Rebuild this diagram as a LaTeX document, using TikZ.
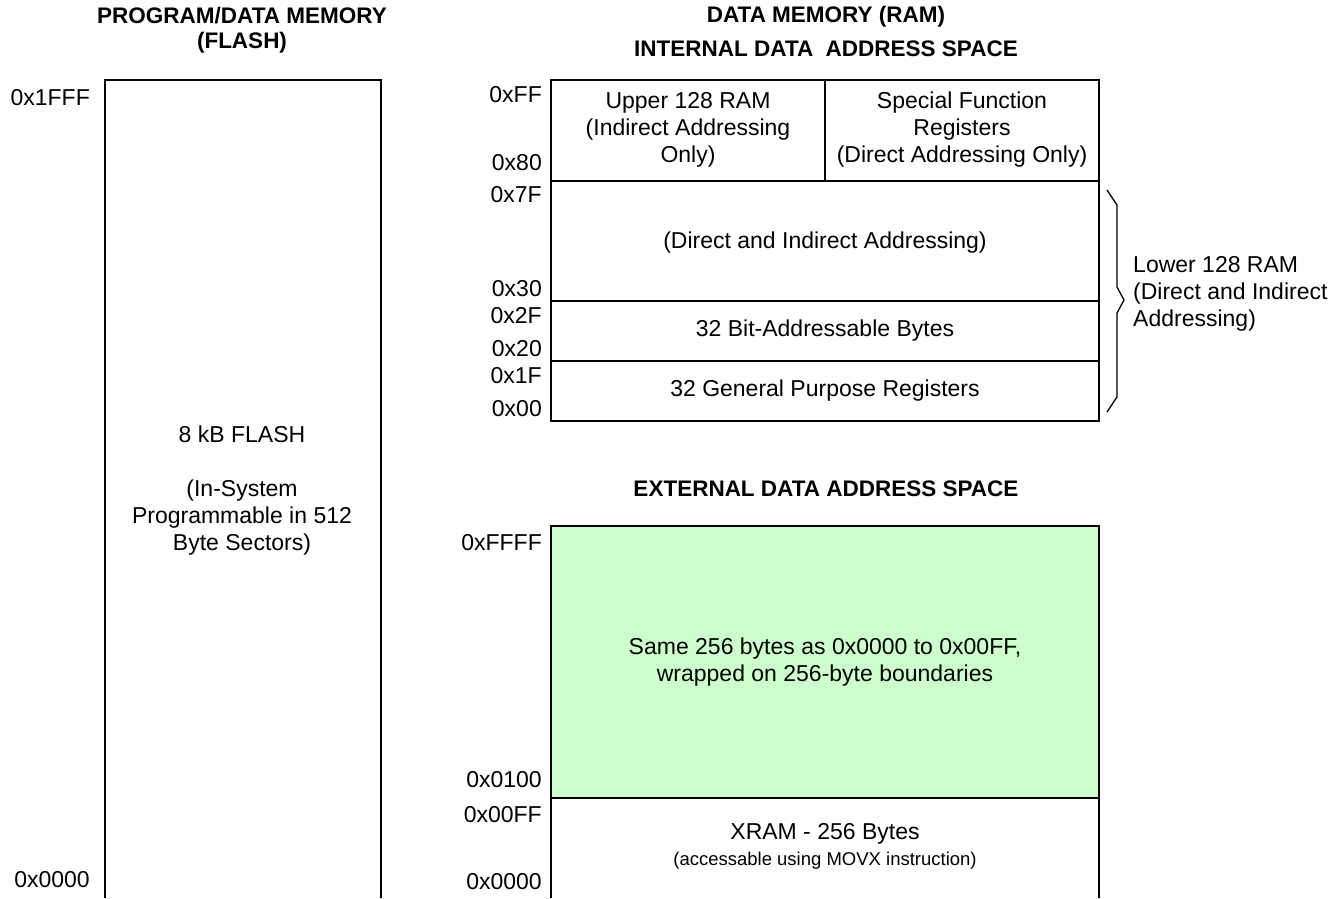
\documentclass[tikz,border=0pt]{standalone}
\usepackage{fontspec}
\setmainfont{Liberation Sans}
\definecolor{memgreen}{HTML}{CCFFCC}
\tikzset{
  box/.style={line width=1.6pt, draw=black, line join=miter},
  body/.style={font=\fontsize{23}{27}\selectfont, inner sep=0pt, align=center, text=black},
  small/.style={font=\fontsize{18.5}{22}\selectfont, inner sep=0pt, align=center},
  ttl/.style={font=\fontsize{22.5}{25}\selectfont\bfseries, inner sep=0pt, align=center},
  addr/.style={font=\fontsize{23}{27}\selectfont, inner sep=0pt, anchor=east},
  bracepath/.style={line width=1.3pt, line join=miter}
}
\begin{document}
\begin{tikzpicture}[x=1pt,y=-1pt]
\useasboundingbox (0,0) rectangle (1344,898);
% titles
\node[ttl] (tflash) at (242,30) {PROGRAM/DATA MEMORY\\(FLASH)};
\node[ttl] (tram) at (826,17) {DATA MEMORY (RAM)};
\node[ttl] (tint) at (826,49) {INTERNAL DATA\hspace{0.55em}ADDRESS SPACE};
\node[ttl] (text) at (826,489) {EXTERNAL DATA ADDRESS SPACE};
% flash box
\draw[box] (105,898) -- (105,80) -- (381,80) -- (381,898);
\node[body] (flash) at (242,491) {8 kB FLASH\\[27pt](In-System\\Programmable in 512\\Byte Sectors)};
\node[addr] (f1) at (90,98) {0x1FFF};
\node[addr] (f0) at (90,880) {0x0000};
% internal RAM
\draw[box] (551,80) rectangle (1099,421);
\draw[box] (551,181) -- (1099,181);
\draw[box] (551,301) -- (1099,301);
\draw[box] (551,361) -- (1099,361);
\draw[box] (825,80) -- (825,181);
\node[body] (upper) at (688,130) {Upper 128 RAM\\(Indirect Addressing\\Only)};
\node[body] (sfr) at (962,130) {Special Function\\Registers\\(Direct Addressing Only)};
\node[body] (lower) at (825,243) {(Direct and Indirect Addressing)};
\node[body] (bitb) at (825,331) {32 Bit-Addressable Bytes};
\node[body] (gpr) at (825,391) {32 General Purpose Registers};
\node[addr] (aFF) at (542,95) {0xFF};
\node[addr] (a80) at (542,163) {0x80};
\node[addr] (a7F) at (542,195) {0x7F};
\node[addr] (a30) at (542,289) {0x30};
\node[addr] (a2F) at (542,316) {0x2F};
\node[addr] (a20) at (542,349) {0x20};
\node[addr] (a1F) at (542,376) {0x1F};
\node[addr] (a00) at (542,409) {0x00};
% brace
\draw[bracepath] (1107,190) -- (1117,205) -- (1117,287) -- (1124,300) -- (1117,313) -- (1117,397) -- (1107,412);
\node[body, align=left, anchor=west] (lowlbl) at (1133,294) {Lower 128 RAM\\(Direct and Indirect\\Addressing)};
% external
\fill[memgreen] (551,526) rectangle (1099,798);
\draw[box] (551,898) -- (551,526) -- (1099,526) -- (1099,898);
\draw[box] (551,798) -- (1099,798);
\node[body] (same) at (825,662) {Same 256 bytes as 0x0000 to 0x00FF,\\wrapped on 256-byte boundaries};
\node[body] (xram) at (825,834) {XRAM - 256 Bytes};
\node[small] (xnote) at (825,861) {(accessable using MOVX instruction)};
\node[addr] (eFFFF) at (542,543) {0xFFFF};
\node[addr] (e0100) at (542,780) {0x0100};
\node[addr] (e00FF) at (542,815) {0x00FF};
\node[addr] (e0000) at (542,882) {0x0000};
\end{tikzpicture}
\end{document}
